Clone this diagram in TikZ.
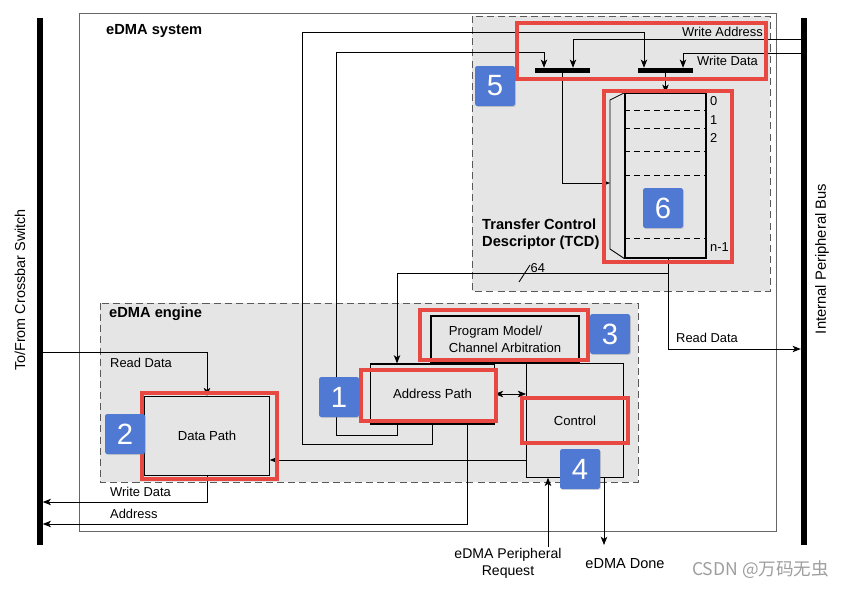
\documentclass[tikz,border=0pt]{standalone}
\usepackage{fontspec}
\setmainfont{Liberation Sans}
\newfontfamily\cjkfont{Noto Sans CJK SC}
\usetikzlibrary{arrows.meta,shadows}
\definecolor{regiongray}{RGB}{229,229,229}
\definecolor{hlred}{RGB}{232,72,66}
\definecolor{badgeblue}{RGB}{80,121,211}
\tikzset{
  lbl/.style={font=\fontsize{11}{13}\selectfont,inner sep=0pt},
  head/.style={font=\fontsize{12.5}{14.5}\selectfont\bfseries,inner sep=0pt,align=left},
  blk/.style={draw,line width=1pt,fill=regiongray,font=\fontsize{11.2}{14.5}\selectfont,inner sep=0pt},
  region/.style={draw=black!65,dash pattern=on 6pt off 3.5pt,line width=0.8pt,fill=regiongray},
  rowline/.style={line width=0.6pt,dash pattern=on 5pt off 3.5pt},
  hl/.style={draw=hlred,line width=2.7pt},
  badge/.style={fill=badgeblue,rounded corners=2pt,minimum size=1.2cm,inner sep=0pt,text=white,
    font=\fontsize{25}{25}\selectfont,drop shadow={shadow xshift=0.8pt,shadow yshift=-0.8pt,opacity=0.3}},
  wire/.style={line width=0.75pt},
  arr/.style={wire,-{Stealth[length=7pt,width=5.5pt,inset=1.8pt]}},
  busbar/.style={fill=black,minimum width=0.18cm,minimum height=15.81cm,inner sep=0pt},
  tap/.style={fill=black,minimum width=1.65cm,minimum height=0.15cm,inner sep=0pt},
}
\begin{document}
\begin{tikzpicture}[x=0.03cm,y=-0.03cm]
    \useasboundingbox (0,0) rectangle (844,588);
    \draw[draw=black!60,line width=0.7pt] (79,13) rectangle (776,531);
    \draw[region] (472,16) rectangle (770,291);
    \draw[region] (100,303) rectangle (638,482);
    \node[head,anchor=west] (lsys) at (106,31) {eDMA system};
    \node[head,anchor=west] (leng) at (109,314) {eDMA engine};
    \node[head,anchor=west] (ltcd) at (482,234.5) {Transfer Control\\Descriptor (TCD)};

    \node[busbar] (lbus) at (39.5,281.5) {};
    \node[busbar] (rbus) at (804,281.5) {};
    \node[lbl,rotate=90,font=\fontsize{12.3}{14}\selectfont] (lxbar) at (20,290) {To/From Crossbar Switch};
    \node[lbl,rotate=90,font=\fontsize{12.6}{14}\selectfont] (lipb) at (822,259) {Internal Peripheral Bus};

    \node[blk,minimum width=3.73cm,minimum height=2.36cm] (dpath) at (207,436) {Data Path};
    \node[blk,minimum width=3.71cm,minimum height=1.8cm] (apath) at (432.5,394) {Address Path};
    \node[blk,minimum width=2.9cm,minimum height=3.4cm] (ctrl) at (575,420.5) {Control};
    \node[blk,minimum width=4.44cm,minimum height=1.41cm,align=left] (pm) at (505,339.5) {Program Model/\\Channel Arbitration};
    \node[blk,minimum width=2.43cm,minimum height=4.94cm] (tcd) at (665.5,175.7) {};
    \foreach \r in {110,128.3,151.7,175,238.3}
        \draw[rowline] (tcd.west |- 0,\r) -- (tcd.east |- 0,\r);
    \foreach \t/\r [count=\i] in {0/100.7,1/120,2/138.3,n-1/247.3}
        \node[lbl,anchor=west] (row\i) at (710,\r) {\t};
    \draw[wire] (tcd.north west) -- (610,100) -- (610,249) -- (tcd.south west);
    \coordinate (muxin) at (610,183);

    \node[tap] (bar1) at (562.5,70.5) {};
    \node[tap] (bar2) at (665.5,70.5) {};

    \draw[arr] (lbus.east |- 0,352) -| (dpath.north);
    \draw[arr] (dpath.south) |- (lbus.east |- 0,502);
    \draw[arr] (apath.south -| 467,0) |- (lbus.east |- 0,524);
    \draw[arr] (apath.south) |- (302,444) |- (644,32) -- (bar2.north -| 644,0);
    \draw[arr] (apath.south -| 397,0) |- (336,435) |- (544,52) -- (bar1.north -| 544,0);
    \draw[arr] (rbus.west |- 0,39) -| (bar1.north -| 573,0);
    \draw[arr] (rbus.west |- 0,53) -| (bar2.north -| 683,0);
    \draw[arr] (bar2.south) -- (tcd.north);
    \draw[arr] (bar1.south) |- (muxin);
    \draw[arr] (tcd.south -| 668,0) |- (rbus.west |- 0,349);
    \draw[arr] (tcd.south -| 668,0) |- (397,273) -- (apath.north -| 397,0);
    \draw[wire] (519,282) -- (530,265);
    \node[lbl,anchor=west] (l64) at (530.5,268) {64};
    \draw[wire,{Stealth[length=7pt,width=5.5pt,inset=1.8pt]}-{Stealth[length=7pt,width=5.5pt,inset=1.8pt]}] (apath.east) -- (ctrl.west |- apath.east);
    \draw[arr] (ctrl.west |- 0,460) -- (dpath.east |- 0,460);
    \coordinate (reqin) at (548,547);
    \coordinate (doneout) at (604,545);
    \draw[arr] (reqin) -- (ctrl.south -| reqin);
    \draw[arr] (ctrl.south -| doneout) -- (doneout);

    \node[lbl,anchor=west] (lrd) at (110,363) {Read Data};
    \node[lbl,anchor=west] (lwd) at (110,492) {Write Data};
    \node[lbl,anchor=west] (ladr) at (110,514) {Address};
    \node[lbl,anchor=west] (lrd2) at (676,338) {Read Data};
    \node[lbl,anchor=east] (lwa) at (763,32) {Write Address};
    \node[lbl,anchor=west] (lwd2) at (697,61) {Write Data};
    \node[lbl,font=\fontsize{12}{14.5}\selectfont,align=center] (lreq) at (508,563.5) {eDMA Peripheral\\Request};
    \node[lbl,font=\fontsize{12.4}{14.5}\selectfont] (ldone) at (625,564) {eDMA Done};

    \foreach \xa/\ya/\xb/\yb in {517/23/766/79,604/91/732/262,420/310/588/360,361/370/496/421,522/398/628/443,142/393/277/479}
        \draw[hl] (\xa,\ya) rectangle (\xb,\yb);
    \foreach \n/\x/\y in {1/339/397,2/125/434,3/610/334,4/580/469,5/495/86,6/663/208}
        \node[badge] (badge\n) at (\x,\y) {\n};

    \node[lbl,font=\cjkfont\fontsize{15}{18}\selectfont,text=black!38,anchor=west] (wm) at (692,570) {CSDN @万码无虫};
\end{tikzpicture}
\end{document}
